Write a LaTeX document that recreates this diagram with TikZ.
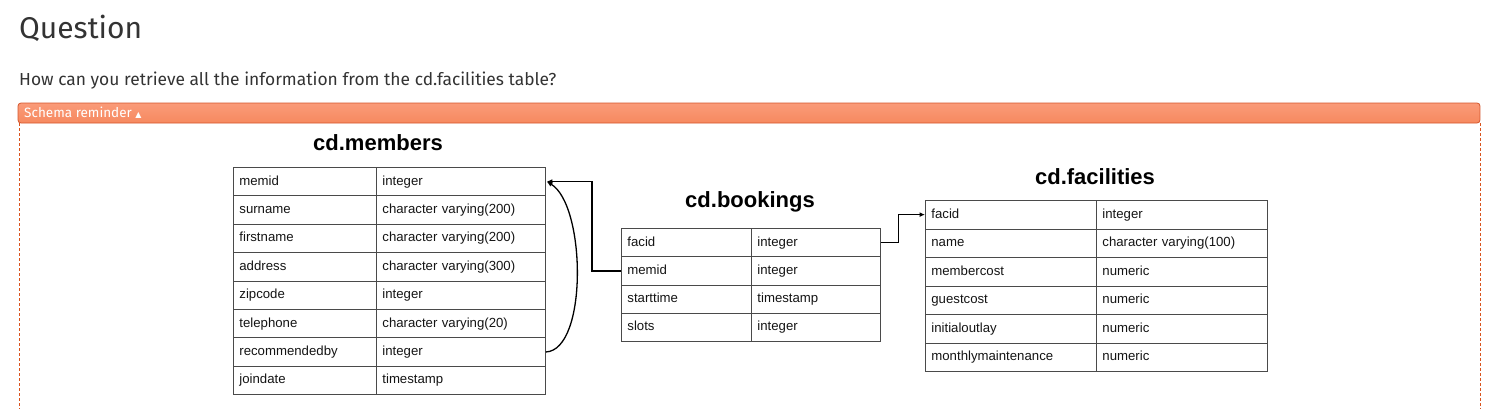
\documentclass[tikz,border=0pt]{standalone}
\usepackage{fontspec}
\setmainfont{Liberation Sans}
\newfontfamily\uifont{Fira Sans}
\newfontfamily\symfont{DejaVu Sans}
\usetikzlibrary{arrows.meta}
\definecolor{barfillA}{HTML}{FA9B79}
\definecolor{barfillB}{HTML}{F6895F}
\definecolor{barline}{HTML}{D4562C}
\definecolor{dashcol}{HTML}{D9531E}
\definecolor{cellline}{HTML}{4A4A4A}
\definecolor{headtext}{HTML}{333333}
\begin{document}
\begin{tikzpicture}[x=1pt,y=-1pt,
  cell/.style={draw=cellline, line width=0.8pt, anchor=north west,
    minimum height=28.4pt, inner xsep=6pt, inner ysep=0pt,
    text height=9.6pt, text depth=2.6pt, align=left,
    font=\fontsize{13.2}{15}\selectfont, text=black!92},
  ttl/.style={font=\bfseries\fontsize{22}{26}\selectfont, inner sep=0pt},
  conn/.style={draw=black, line width=1.3pt, -{Latex[length=5.5pt,width=5pt]}}]
\useasboundingbox (0,0) rectangle (1486,408);

% header
\node[anchor=base west, inner sep=0pt, font=\uifont\fontsize{30}{35}\selectfont, text=headtext] (q) at (19,38) {Question};
\node[anchor=base west, inner sep=0pt, font=\uifont\fontsize{17.4}{20}\selectfont, text=headtext] (qs) at (19,85) {How can you retrieve all the information from the cd.facilities table?};

% dashed frame
\draw[dashcol, line width=0.9pt, dash pattern=on 3pt off 2pt] (19,123) -- (19,412);
\draw[dashcol, line width=0.9pt, dash pattern=on 3pt off 2pt] (1480,123) -- (1480,412);

% bar
\shade[top color=barfillA, bottom color=barfillB, rounded corners=3pt] (18,103) rectangle (1480,123);
\draw[barline, line width=0.8pt, rounded corners=3pt] (18,103) rectangle (1480,123);
\node[anchor=base west, inner sep=0pt, text=white, font=\uifont\fontsize{13.5}{16}\selectfont] (bar) at (24,117) {Schema reminder {\symfont\fontsize{8}{10}\selectfont ▲}};

% members
\node[ttl] (tm) at (378,143) {cd.members};
\foreach [count=\i] \a/\b in {memid/integer, surname/character varying(200), firstname/character varying(200), address/character varying(300), zipcode/integer, telephone/character varying(20), recommendedby/integer, joindate/timestamp} {
  \node[cell, text width=131pt] (m\i) at (233,{167+(\i-1)*28.4}) {\a};
  \node[cell, text width=157pt] (mt\i) at (376,{167+(\i-1)*28.4}) {\b};
}

% bookings
\node[ttl] (tb) at (750,202) {cd.bookings};
\foreach [count=\i] \a/\b in {facid/integer, memid/integer, starttime/timestamp, slots/integer} {
  \node[cell, minimum height=28.3pt, text width=118pt] (b\i) at (621,{228+(\i-1)*28.3}) {\a};
  \node[cell, minimum height=28.3pt, text width=117pt] (bt\i) at (751,{228+(\i-1)*28.3}) {\b};
}

% facilities
\node[ttl] (tf) at (1095,177) {cd.facilities};
\foreach [count=\i] \a/\b in {facid/integer, name/character varying(100), membercost/numeric, guestcost/numeric, initialoutlay/numeric, monthlymaintenance/numeric} {
  \node[cell, minimum height=28.5pt, text width=159pt] (f\i) at (925,{200+(\i-1)*28.5}) {\a};
  \node[cell, minimum height=28.5pt, text width=159pt] (ft\i) at (1096,{200+(\i-1)*28.5}) {\b};
}

% connectors
\draw[conn] (b2.west) -- ++(-29,0) |- ([xshift=1pt]mt1.east);
\draw[conn] (mt7.east) .. controls (588,350) and (586,205) .. ([xshift=1pt]mt1.east);
\draw[conn] (bt1.east) -- ++(18,0) |- (f1.west);
\end{tikzpicture}
\end{document}
